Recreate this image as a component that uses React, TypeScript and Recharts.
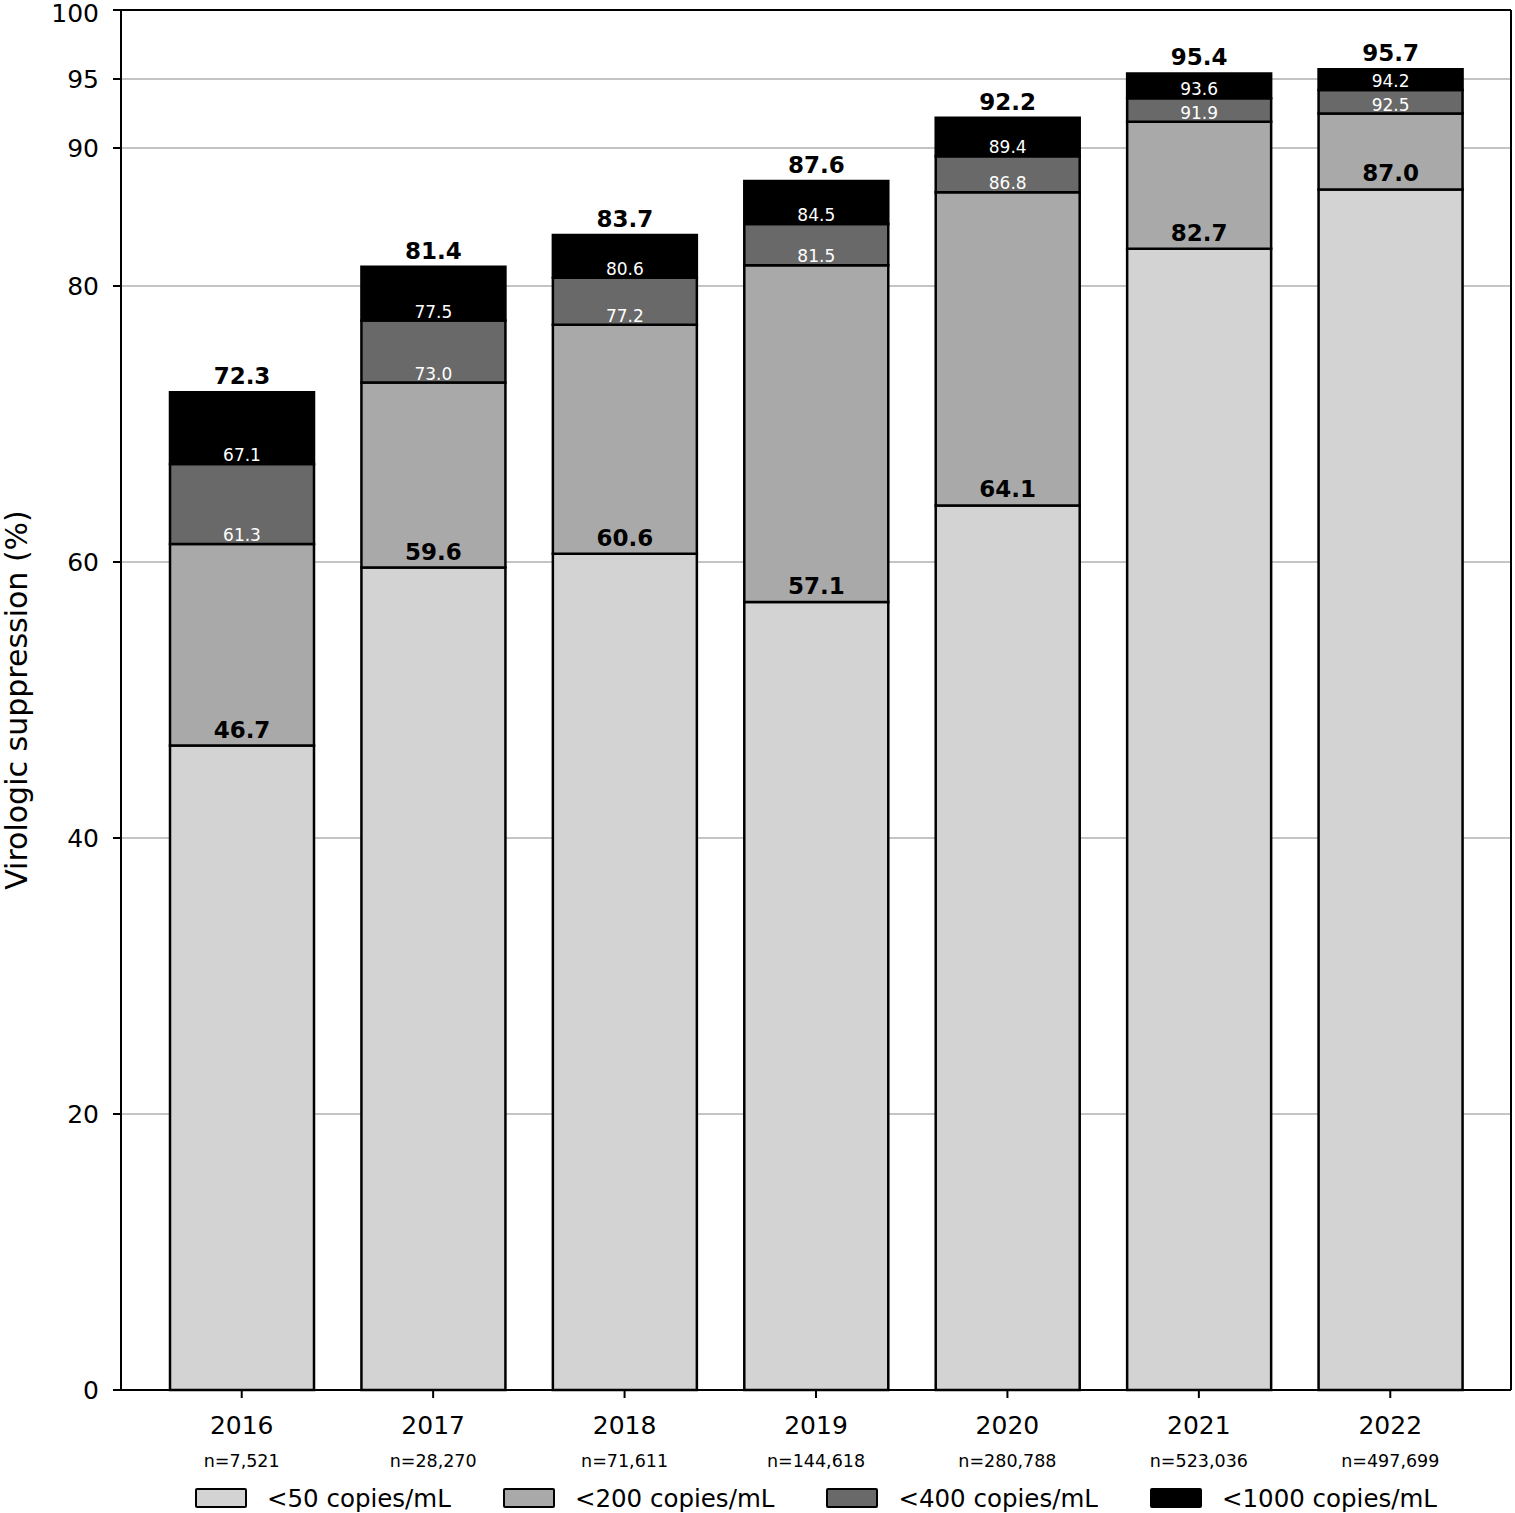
import React from 'react';
import {
  BarChart,
  Bar,
  XAxis,
  YAxis,
  CartesianGrid,
  Legend,
  LabelList,
} from 'recharts';

// Cumulative share (%) below each threshold, by year
const years = ['2016', '2017', '2018', '2019', '2020', '2021', '2022'];
const sampleSizes = ['7,521', '28,270', '71,611', '144,618', '280,788', '523,036', '497,699'];
const below50 = [46.7, 59.6, 60.6, 57.1, 64.1, 82.7, 87.0];
const below200 = [61.3, 73.0, 77.2, 81.5, 86.8, 91.9, 92.5];
const below400 = [67.1, 77.5, 80.6, 84.5, 89.4, 93.6, 94.2];
const below1000 = [72.3, 81.4, 83.7, 87.6, 92.2, 95.4, 95.7];
const yTicks = [0, 20, 40, 60, 80, 90, 95, 100];

const seriesNames = ['<50 copies/mL', '<200 copies/mL', '<400 copies/mL', '<1000 copies/mL'];
const seriesColors = ['#d3d3d3', '#a9a9a9', '#696969', '#000000'];

const FONT = '"DejaVu Sans", sans-serif';
const r1 = (v: number) => Math.round(v * 10) / 10;

// stacked segments are the differences between cumulative levels
const data = years.map((year, i) => ({
  year,
  n: sampleSizes[i],
  s50: below50[i],
  s200: r1(below200[i] - below50[i]),
  s400: r1(below400[i] - below200[i]),
  s1000: r1(below1000[i] - below400[i]),
  c50: below50[i],
  c200: below200[i],
  c400: below400[i],
  c1000: below1000[i],
}));

const segKeys = ['s50', 's200', 's400', 's1000'];
const cumKeys = ['c50', 'c200', 'c400', 'c1000'];

function YearTick(props: any) {
  const { x, y, payload, index } = props;
  return (
    <g>
      <text x={x} y={y + 34} textAnchor="middle" fontFamily={FONT} fontSize={25} fill="#000">
        {payload.value}
      </text>
      <text x={x} y={y + 67} textAnchor="middle" fontFamily={FONT} fontSize={17.5} fill="#000">
        {'n=' + sampleSizes[index]}
      </text>
    </g>
  );
}

// keep the top label ("100") inside the page
function ValueTick(props: any) {
  const { x, y, payload } = props;
  return (
    <text
      x={x}
      y={Math.max(y, 13) + 9}
      textAnchor="end"
      fontFamily={FONT}
      fontSize={25}
      fill="#000"
    >
      {payload.value}
    </text>
  );
}

function LegendBox() {
  return (
    <div
      style={{
        height: 30,
        display: 'flex',
        alignItems: 'center',
        justifyContent: 'center',
        paddingLeft: 121,
        paddingRight: 4,
        boxSizing: 'border-box',
        fontFamily: FONT,
        fontSize: 24.5,
        color: '#000',
      }}
    >
      {seriesNames.map((name, i) => (
        <div
          key={name}
          style={{
            display: 'flex',
            alignItems: 'center',
            marginRight: i < seriesNames.length - 1 ? 52 : 0,
          }}
        >
          <span
            style={{
              display: 'inline-block',
              width: 48,
              height: 16,
              background: seriesColors[i],
              border: '2px solid #000',
              borderRadius: 2,
              marginRight: 20,
            }}
          />
          <span style={{ whiteSpace: 'nowrap' }}>{name}</span>
        </div>
      ))}
    </div>
  );
}

export default function App() {
  return (
    <div style={{ position: 'absolute', left: 0, top: 0, background: '#fff' }}>
      <BarChart
        width={1515}
        height={1513}
        data={data}
        margin={{ top: 9, right: 0, left: 0, bottom: 0 }}
      >
        <CartesianGrid vertical={false} stroke="#b0b0b0" strokeWidth={1.5} />
        <XAxis
          dataKey="year"
          height={93}
          padding={{ left: 25, right: 25 }}
          axisLine={{ stroke: '#000', strokeWidth: 2 }}
          tickLine={{ stroke: '#000', strokeWidth: 2 }}
          tickSize={8}
          tickMargin={2}
          interval={0}
          tick={<YearTick />}
        />
        <XAxis
          xAxisId="top"
          dataKey="year"
          orientation="top"
          height={1}
          tick={false}
          tickLine={false}
          axisLine={{ stroke: '#000', strokeWidth: 2 }}
        />
        <YAxis
          type="number"
          domain={[0, 100]}
          ticks={yTicks}
          interval={0}
          width={121}
          axisLine={{ stroke: '#000', strokeWidth: 2 }}
          tickLine={{ stroke: '#000', strokeWidth: 2 }}
          tickSize={8}
          tickMargin={14}
          tick={<ValueTick />}
          label={{
            content: (p: any) => {
              const vb = p.viewBox || { x: 0, y: 10, height: 1380 };
              const cx = vb.x + 27;
              const cy = vb.y + vb.height / 2;
              return (
                <text
                  x={cx}
                  y={cy}
                  transform={`rotate(-90, ${cx}, ${cy})`}
                  textAnchor="middle"
                  fontFamily={FONT}
                  fontSize={30}
                  fill="#000"
                >
                  Virologic suppression (%)
                </text>
              );
            },
          }}
        />
        <YAxis
          yAxisId="right"
          orientation="right"
          width={4}
          domain={[0, 100]}
          tick={false}
          tickLine={false}
          axisLine={{ stroke: '#000', strokeWidth: 2 }}
        />
        <Legend verticalAlign="bottom" content={() => <LegendBox />} />
        {segKeys.map((key, i) => {
          const bold = i === 0 || i === 3;
          return (
            <Bar
              key={key}
              dataKey={key}
              name={seriesNames[i]}
              stackId="vs"
              fill={seriesColors[i]}
              stroke="#000"
              strokeWidth={2.5}
              barSize={144}
              isAnimationActive={false}
            >
              <LabelList
                dataKey={cumKeys[i]}
                position="top"
                offset={bold ? 8 : 3}
                formatter={(v: any) => Number(v).toFixed(1)}
                fill={bold ? '#000' : '#fff'}
                fontFamily={FONT}
                fontSize={bold ? 23 : 17}
                fontWeight={bold ? 'bold' : 'normal'}
              />
            </Bar>
          );
        })}
      </BarChart>
    </div>
  );
}
